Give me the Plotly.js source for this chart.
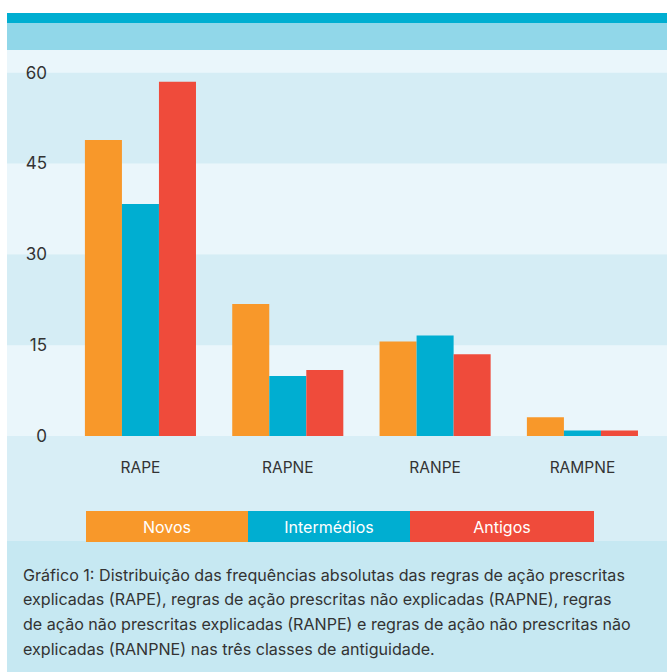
<!DOCTYPE html>
<html>
<head>
<meta charset="utf-8">
<script src="https://cdn.plot.ly/plotly-3.0.1.min.js"></script>
<style>html,body{margin:0;padding:0;background:#fff;}#chart{width:667px;height:672px;}</style>
</head>
<body>
<div id="chart"></div>
<script>
const categories = ["RAPE", "RAPNE", "RANPE", "RAMPNE"];
const seriesNames = ["Novos", "Intermédios", "Antigos"];
const novos = [48.9, 21.8, 15.6, 3.1];
const intermedios = [38.3, 9.9, 16.6, 0.9];
const antigos = [58.5, 10.9, 13.5, 0.9];
const yTicks = [0, 15, 30, 45, 60];
const captionLines = [
  "Gráfico 1: Distribuição das frequências absolutas das regras de ação prescritas",
  "explicadas (RAPE), regras de ação prescritas não explicadas (RAPNE), regras",
  "de ação não prescritas explicadas (RANPE) e regras de ação não prescritas não",
  "explicadas (RANPNE) nas três classes de antiguidade."
];

const colors = ["#f8982a", "#00aed1", "#ef4b3b"];
const seriesValues = [novos, intermedios, antigos];
const FONT = "Inter, Roboto, sans-serif";

const W = 667, H = 672;
const L = 55, R = 0, T = 50, B = 236;
const PW = W - L - R, PH = H - T - B;
const px = v => (v - L) / PW;          // pixel x -> paper
const py = v => (H - B - v) / PH;      // pixel y -> paper

const traces = seriesValues.map((vals, i) => ({
  type: "bar",
  x: categories,
  y: vals,
  name: seriesNames[i],
  marker: { color: colors[i], line: { width: 0 } },
  hoverinfo: "none"
}));

const shapes = [
  { type: "rect", xref: "paper", yref: "paper", x0: px(7), x1: 1, y0: py(541), y1: 1, fillcolor: "#d8eef6", line: { width: 0 }, layer: "below" },
  { type: "rect", xref: "paper", yref: "paper", x0: px(7), x1: 1, y0: 0, y1: 1, fillcolor: "#eaf6fb", line: { width: 0 }, layer: "below" },
  { type: "rect", xref: "paper", yref: "paper", x0: px(7), x1: 1, y0: py(672), y1: py(541), fillcolor: "#c6e8f2", line: { width: 0 }, layer: "below" },
  { type: "rect", xref: "paper", yref: "paper", x0: px(7), x1: 1, y0: 1, y1: py(23), fillcolor: "#91d7e9", line: { width: 0 }, layer: "below" },
  { type: "rect", xref: "paper", yref: "paper", x0: px(7), x1: 1, y0: py(23), y1: py(13), fillcolor: "#00aed1", line: { width: 0 }, layer: "below" }
];
for (let i = 0; i < yTicks.length - 1; i++) {
  shapes.push({
    type: "rect", xref: "paper", yref: "y", x0: px(7), x1: 1,
    y0: yTicks[i], y1: yTicks[i + 1],
    fillcolor: i % 2 === 0 ? "#eaf6fb" : "#d5edf5",
    line: { width: 0 }, layer: "below"
  });
}

const annotations = [];
const legendBoxes = [[86, 248], [248, 410], [410, 594]];
seriesNames.forEach((n, i) => {
  annotations.push({
    xref: "paper", yref: "paper",
    x: px(legendBoxes[i][0]), y: py(511),
    xanchor: "left", yanchor: "top",
    width: legendBoxes[i][1] - legendBoxes[i][0], height: 31,
    borderpad: 0, borderwidth: 0,
    bgcolor: colors[i],
    text: n, showarrow: false, align: "center", valign: "middle",
    font: { family: FONT, size: 16, color: "#ffffff" }
  });
});
captionLines.forEach((t, i) => {
  annotations.push({
    xref: "paper", yref: "paper",
    x: px(21), y: py(574.5 + i * 24.7),
    xanchor: "left", yanchor: "middle",
    text: t, showarrow: false, align: "left",
    font: { family: FONT, size: 16.1, color: "#333333" }
  });
});

const layout = {
  width: W, height: H,
  margin: { l: L, r: R, t: T, b: B, pad: 0 },
  paper_bgcolor: "#ffffff",
  plot_bgcolor: "rgba(0,0,0,0)",
  barmode: "group",
  bargap: 0.246,
  bargroupgap: 0,
  showlegend: false,
  font: { family: FONT, color: "#333333" },
  xaxis: {
    range: [-0.58, 3.574],
    showgrid: false, zeroline: false, showline: false, ticks: "",
    tickfont: { family: FONT, size: 15.5, color: "#333333" },
    ticklabelstandoff: 20,
    fixedrange: true
  },
  yaxis: {
    range: [0, 63.75],
    tickvals: yTicks,
    ticktext: yTicks.map(String),
    showgrid: false, zeroline: false, showline: false, ticks: "",
    tickfont: { family: FONT, size: 17, color: "#333333" },
    ticklabelstandoff: 7,
    fixedrange: true
  },
  shapes: shapes,
  annotations: annotations
};

Plotly.newPlot("chart", traces, layout, { displayModeBar: false, staticPlot: true });
</script>
</body>
</html>
